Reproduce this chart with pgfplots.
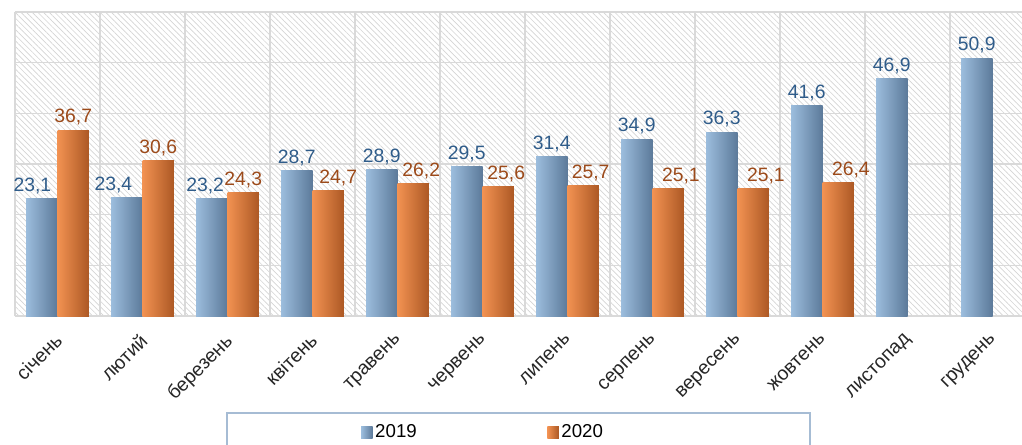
\documentclass[border=0pt]{standalone}
\usepackage{fontspec}
\setmainfont{Liberation Sans}
\usepackage{pgfplots}
\pgfplotsset{compat=1.18}
\usepackage{pgfplotstable}
\usetikzlibrary{patterns.meta}
\definecolor{gridc}{RGB}{217,217,217}
\definecolor{hatchc}{RGB}{212,212,212}
\definecolor{bluetxt}{RGB}{47,92,138}
\definecolor{orangetxt}{RGB}{156,74,26}
\definecolor{legframe}{RGB}{166,188,212}
\definecolor{bb}{RGB}{156,189,221}
\definecolor{bc}{RGB}{145,178,210}
\definecolor{be}{RGB}{92,122,154}
\definecolor{ob}{RGB}{242,146,82}
\definecolor{oc}{RGB}{233,136,72}
\definecolor{oe}{RGB}{172,88,36}

\pgfplotstableread{
x y s
0 23.1 -7
1 23.4 -10
2 23.2 -5
3 28.7 0
4 28.9 0
5 29.5 0
6 31.4 0
7 34.9 0
8 36.3 0
9 41.6 0
10 46.9 0
11 50.9 0
}\tblA
\pgfplotstableread{
x y s
0 36.7 0
1 30.6 0
2 24.3 0
3 24.7 7.5
4 26.2 6
5 25.6 6
6 25.7 5.5
7 25.1 9.5
8 25.1 9.5
9 26.4 9.5
}\tblB

\begin{document}
\begin{tikzpicture}
\begin{axis}[
  at={(11.25pt,96pt)}, anchor=south west,
  scale only axis, width=755.25pt, height=228pt,
  xmin=-0.5, xmax=11.347, ymin=0, ymax=60,
  enlargelimits=false,
  axis line style={draw=none},
  axis background/.style={pattern={Lines[angle=-45,distance=3pt,line width=0.5pt]}, pattern color=hatchc},
  xtick={0,...,11},
  xticklabels={січень,лютий,березень,квітень,травень,червень,липень,серпень,вересень,жовтень,листопад,грудень},
  minor xtick={-0.5,0.5,...,10.5},
  xminorgrids, ymajorgrids,
  ytick={0,10,...,60}, yticklabels={},
  major tick length=0pt, minor tick length=0pt,
  grid style={draw=gridc, line width=1.2pt},
  minor grid style={draw=gridc, line width=1.2pt},
  xticklabel style={yshift=-12pt, xshift=-3pt, anchor=north east, rotate=45, inner sep=0pt,
     font=\fontsize{14.5pt}{17pt}\selectfont, text=black!85},
  /pgf/number format/.cd, use comma, fixed, fixed zerofill, precision=1, assume math mode=true, /pgfplots/.cd,
  legend columns=2,
  legend style={at={(axis description cs:0.3396,-0.3816)}, anchor=west, draw=none, fill=none,
     font=\fontsize{14pt}{17pt}\selectfont,
     /tikz/every even column/.append style={column sep=96pt}},
  legend image code/.code={\path[#1,draw=none] (0pt,-4.5pt) rectangle (8.5pt,4.5pt);},
  bar width=0.37,
]
\pgfplotsinvokeforeach{0,...,11}{
\addplot[ybar, bar shift=-0.185, draw=none, fill=none, left color=bb, middle color=bc, right color=be, forget plot,
  restrict x to domain=#1:#1,
  nodes near coords, visualization depends on={\thisrow{s} \as \lshift},
  nodes near coords style={font=\fontsize{14.5pt}{17pt}\selectfont, text=bluetxt, xshift=\lshift pt-11.8pt}]
  table[x=x,y=y] {\tblA};
}
\pgfplotsinvokeforeach{0,...,9}{
\addplot[ybar, bar shift=0.185, draw=none, fill=none, left color=ob, middle color=oc, right color=oe, forget plot,
  restrict x to domain=#1:#1,
  nodes near coords, visualization depends on={\thisrow{s} \as \lshift},
  nodes near coords style={font=\fontsize{14.5pt}{17pt}\selectfont, text=orangetxt, xshift=\lshift pt+11.8pt}]
  table[x=x,y=y] {\tblB};
}
\addlegendimage{left color=bb, middle color=bc, right color=be}
\addlegendentry{2019}
\addlegendimage{left color=ob, middle color=oc, right color=oe}
\addlegendentry{2020}
\end{axis}
\draw[legframe, line width=0.8pt] (170.25pt,23.25pt) rectangle (607.5pt,-10pt);
\pgfresetboundingbox
\useasboundingbox (0,0) rectangle (766.5pt,333pt);
\end{tikzpicture}
\end{document}
